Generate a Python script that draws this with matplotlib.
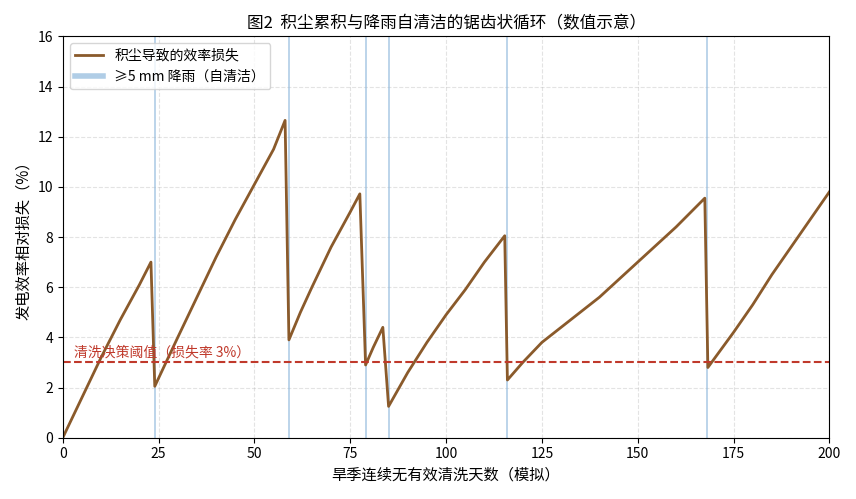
import matplotlib
matplotlib.use("Agg")
import matplotlib.pyplot as plt

plt.rcParams['font.family'] = ['Noto Sans CJK SC', 'DejaVu Sans']

# curve
days = [0, 5, 10, 15, 20, 23,
        24, 30, 35, 40, 45, 50, 55, 58,
        59, 62, 65, 70, 75, 77.5,
        79, 81, 83.5,
        85, 90, 95, 100, 105, 110, 115.3,
        116, 120, 125, 130, 140, 150, 160, 167.5,
        168.3, 175, 180, 185, 190, 195, 200]
loss = [0, 1.6, 3.2, 4.7, 6.1, 7.0,
        2.05, 4.0, 5.6, 7.2, 8.7, 10.1, 11.5, 12.65,
        3.9, 5.0, 6.0, 7.6, 9.0, 9.72,
        2.9, 3.6, 4.4,
        1.25, 2.6, 3.8, 4.9, 5.9, 7.0, 8.05,
        2.3, 3.0, 3.8, 4.4, 5.6, 7.0, 8.4, 9.55,
        2.8, 4.2, 5.3, 6.5, 7.6, 8.7, 9.8]
rain_days = [24, 59, 79, 85, 116, 168]
threshold = 3

fig, ax = plt.subplots(figsize=(8.56, 4.99), dpi=100)
for i, r in enumerate(rain_days):
    ax.axvline(r, color="#8fb8dc", lw=1.2, alpha=0.7,
               label="≥5 mm 降雨（自清洁）" if i == 0 else None)
ax.plot(days, loss, color="#8a5a2b", lw=2, label="积尘导致的效率损失")
ax.axhline(threshold, color="#c0392b", ls="--", lw=1.5)
ax.text(3, 3.25, "清洗决策阈值（损失率 3%）", color="#c0392b", fontsize=10)

ax.set_xlim(0, 200)
ax.set_ylim(0, 16)
ax.grid(True, ls="--", alpha=0.35)
ax.set_xlabel("旱季连续无有效清洗天数（模拟）", fontsize=11)
ax.set_ylabel("发电效率相对损失（%）", fontsize=11)
ax.set_title("图2  积尘累积与降雨自清洁的锯齿状循环（数值示意）", fontsize=12)
h, l = ax.get_legend_handles_labels()
leg = ax.legend(h[::-1], l[::-1], loc="upper left", fontsize=10)
leg.legend_handles[0].set_linewidth(2)
leg.legend_handles[1].set_linewidth(4)

fig.tight_layout()
fig.savefig("out.png")
